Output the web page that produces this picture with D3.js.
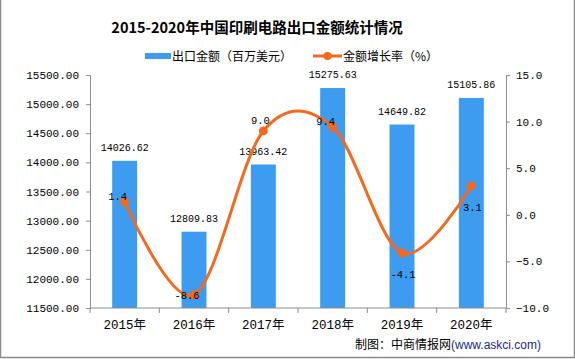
<!DOCTYPE html>
<html><head><meta charset="utf-8">
<script src="https://cdn.jsdelivr.net/npm/d3@7/dist/d3.min.js"></script>
<style>body{margin:0;background:#fff}svg{display:block}</style>
</head><body>
<script>
const categories = ["2015年","2016年","2017年","2018年","2019年","2020年"];
const exportValues = [14026.62, 12809.83, 13963.42, 15275.63, 14649.82, 15105.86];
const growthRates = [1.4, -8.6, 9.0, 9.4, -4.1, 3.1];
const leftTicks = [11500,12000,12500,13000,13500,14000,14500,15000,15500];
const rightTicks = [-10,-5,0,5,10,15];
const growthLabelPlacement = ["left","left","above","left","below","below"];
const title = "2015-2020年中国印刷电路出口金额统计情况";
const seriesNames = ["出口金额（百万美元）","金额增长率（%）"];

const W=575,H=359;
const m={l:90,r:69,t:75,b:51};
const barColor="#3d9cf0", lineColor="#f5691f", axisColor="#8c8c8c";
const numFont="'Liberation Mono','Noto Sans CJK SC',monospace";
const cjk="'Noto Sans CJK SC','Noto Sans',sans-serif";

const svg=d3.select("body").append("svg").attr("width",W).attr("height",H);
svg.append("rect").attr("width",W).attr("height",H).attr("fill","#fff");

const x=d3.scaleBand().domain(categories).range([m.l,W-m.r]);
const yL=d3.scaleLinear().domain([11500,15500]).range([H-m.b,m.t]);
const yR=d3.scaleLinear().domain([-10,15]).range([H-m.b,m.t]);

// bars
const bw=x.bandwidth()*0.36;
svg.append("g").selectAll("rect").data(exportValues).join("rect")
  .attr("x",(d,i)=>x(categories[i])+x.bandwidth()/2-bw/2)
  .attr("y",d=>yL(d)).attr("width",bw).attr("height",d=>yL(11500)-yL(d))
  .attr("fill",barColor);

// axes
function styleAxis(g){g.selectAll("path,line").attr("stroke",axisColor);g.selectAll("text").attr("fill","#000");}
svg.append("g").attr("transform",`translate(${m.l},0)`)
  .call(d3.axisLeft(yL).tickValues(leftTicks).tickFormat(d3.format(".2f")).tickSizeOuter(0).tickSize(4).tickPadding(7))
  .call(styleAxis).attr("font-family",numFont).attr("font-size",11);
svg.append("g").attr("transform",`translate(${W-m.r},0)`)
  .call(d3.axisRight(yR).tickValues(rightTicks).tickFormat(d3.format(".1f")).tickSizeOuter(0).tickSize(4).tickPadding(6))
  .call(styleAxis).attr("font-family",numFont).attr("font-size",11);
const xa=svg.append("g").attr("transform",`translate(0,${H-m.b})`);
xa.append("line").attr("x1",m.l).attr("x2",W-m.r).attr("stroke",axisColor);
const bounds=categories.map(c=>x(c)).concat([x(categories[categories.length-1])+x.bandwidth()]);
xa.selectAll("line.t").data(bounds).join("line").attr("class","t")
  .attr("x1",d=>d).attr("x2",d=>d).attr("y1",0).attr("y2",5).attr("stroke",axisColor);
xa.selectAll("text").data(categories).join("text")
  .attr("x",d=>x(d)+x.bandwidth()/2).attr("y",21).attr("text-anchor","middle")
  .attr("font-family",numFont).attr("font-size",12.5).text(d=>d);

// bar labels
svg.append("g").selectAll("text").data(exportValues).join("text")
  .attr("x",(d,i)=>x(categories[i])+x.bandwidth()/2).attr("y",d=>yL(d)-10)
  .attr("text-anchor","middle").attr("font-family",numFont).attr("font-size",10).text(d=>d.toFixed(2));

// line
const pts=growthRates.map((d,i)=>[x(categories[i])+x.bandwidth()/2,yR(d)]);
svg.append("path").attr("d",d3.line().curve(d3.curveCardinal.tension(0))(pts))
  .attr("fill","none").attr("stroke",lineColor).attr("stroke-width",3);
svg.append("g").selectAll("circle").data(pts).join("circle")
  .attr("cx",d=>d[0]).attr("cy",d=>d[1]).attr("r",4.5).attr("fill",lineColor);

const off={left:[-7,-2],above:[-3,-7],below:[1,25]};
svg.append("g").selectAll("text").data(growthRates).join("text")
  .attr("x",(d,i)=>pts[i][0]+off[growthLabelPlacement[i]][0])
  .attr("y",(d,i)=>pts[i][1]+off[growthLabelPlacement[i]][1]+(i===1?6:0))
  .attr("text-anchor","middle").attr("font-family",numFont).attr("font-size",10.5).text(d=>d.toFixed(1));

// title
svg.append("text").attr("x",257).attr("y",33).attr("text-anchor","middle")
  .attr("font-family","'Noto Sans CJK SC',sans-serif").attr("font-weight","bold").attr("font-size",14.5).text(title);

// legend
svg.append("rect").attr("x",145).attr("y",53).attr("width",26).attr("height",6).attr("fill",barColor);
svg.append("text").attr("x",172).attr("y",61).attr("font-family",cjk).attr("font-size",12).text(seriesNames[0]);
svg.append("line").attr("x1",313).attr("x2",342).attr("y1",56).attr("y2",56).attr("stroke",lineColor).attr("stroke-width",3);
svg.append("circle").attr("cx",327.5).attr("cy",56).attr("r",4).attr("fill",lineColor);
svg.append("text").attr("x",343).attr("y",61).attr("font-family",cjk).attr("font-size",12).text(seriesNames[1]);

// footer
const ft=svg.append("text").attr("x",355).attr("y",349).attr("font-size",12);
ft.append("tspan").attr("font-family",cjk).attr("fill","#000").text("制图：中商情报网");
ft.append("tspan").attr("font-family","'Liberation Sans',Arial,sans-serif").attr("fill","#1a2a8a").text("(www.askci.com)");

// frame
svg.append("path").attr("d",`M0.5,0 V${H-1.5} H${W-0.5} V0`).attr("fill","none").attr("stroke","#8a8a8a").attr("stroke-width",1.5);
</script>
</body></html>
